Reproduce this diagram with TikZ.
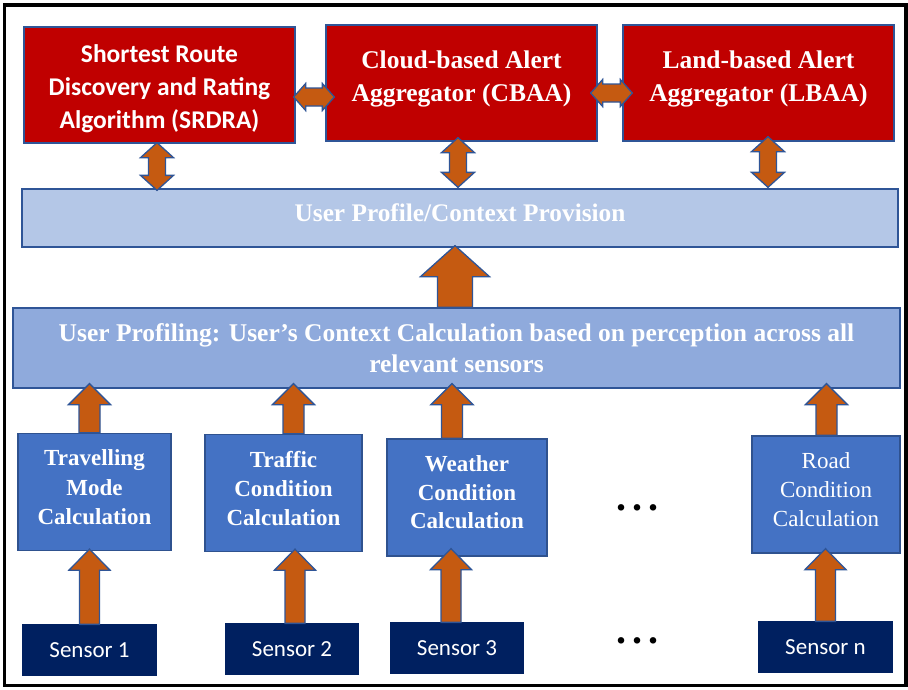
\documentclass[tikz,border=0pt]{standalone}
\usepackage{fontspec}
\setmainfont{Liberation Serif}
\newfontfamily\calfont{Carlito}
\usetikzlibrary{calc}
\definecolor{boxred}{HTML}{C00000}
\definecolor{edgeblue}{HTML}{2F5597}
\definecolor{paleblue}{HTML}{B4C7E7}
\definecolor{midblue}{HTML}{8FAADC}
\definecolor{calcblue}{HTML}{4472C4}
\definecolor{calcedge}{HTML}{2F528F}
\definecolor{navy}{HTML}{002060}
\definecolor{arrorange}{HTML}{C55A11}
\newcommand\mlines[2][0pt]{\raisebox{#1}[\height][\depth]{\begin{tabular}{@{}c@{}}#2\end{tabular}}}
% up block arrow: #1 bottom centre, #2 tip (y only), #3 half shaft, #4 half head, #5 head length
\newcommand\uparr[5]{\draw[blockarrow] let \p1=#1, \p2=#2 in
  (\x1-#3,\y1) -- (\x1+#3,\y1) -- (\x1+#3,\y2-#5) -- (\x1+#4,\y2-#5) -- (\x1,\y2)
  -- (\x1-#4,\y2-#5) -- (\x1-#3,\y2-#5) -- cycle;}
% vertical double block arrow: #1 upper tip, #2 lower tip (y only)
\newcommand\vdarr[5]{\draw[blockarrow] let \p1=#1, \p2=#2 in
  (\x1,\y1) -- (\x1+#4,\y1-#5) -- (\x1+#3,\y1-#5) -- (\x1+#3,\y2+#5) -- (\x1+#4,\y2+#5)
  -- (\x1,\y2) -- (\x1-#4,\y2+#5) -- (\x1-#3,\y2+#5) -- (\x1-#3,\y1-#5) -- (\x1-#4,\y1-#5) -- cycle;}
% horizontal double block arrow: #1 left tip, #2 right tip (x only)
\newcommand\hdarr[5]{\draw[blockarrow] let \p1=#1, \p2=#2 in
  (\x1,\y1) -- (\x1+#5,\y1+#4) -- (\x1+#5,\y1+#3) -- (\x2-#5,\y1+#3) -- (\x2-#5,\y1+#4)
  -- (\x2,\y1) -- (\x2-#5,\y1-#4) -- (\x2-#5,\y1-#3) -- (\x1+#5,\y1-#3) -- (\x1+#5,\y1-#4) -- cycle;}
\tikzset{
  box/.style={draw, line width=1.3pt, inner sep=0pt, text=white, align=center},
  redbox/.style={box, fill=boxred, draw=edgeblue, minimum width=271pt, minimum height=116pt},
  palebox/.style={box, fill=paleblue, draw=edgeblue},
  midbox/.style={box, fill=midblue, draw=edgeblue},
  calcbox/.style={box, fill=calcblue, draw=calcedge, minimum height=117pt,
     font=\rmfamily\fontsize{23}{29}\selectfont},
  sensorbox/.style={box, fill=navy, draw=navy, minimum width=132pt, minimum height=50pt,
     font=\calfont\fontsize{23}{28}\selectfont},
  blockarrow/.style={fill=arrorange, draw=edgeblue, line width=1.3pt, line join=miter},
  dotsnode/.style={inner sep=0pt, font=\bfseries\fontsize{40}{40}\selectfont}
}
\begin{document}
\begin{tikzpicture}[x=1pt, y=-1pt]
\useasboundingbox (0,0) rectangle (908,689);
\fill[white] (0,0) rectangle (908,689);
\draw[line width=3.5pt] (4.5,5) rectangle (906,685.5);

% top row
\node[redbox, font=\calfont\bfseries\fontsize{25.5}{33}\selectfont] (srdra) at (159.5,85)
  {\mlines[-3.5pt]{Shortest Route\\Discovery and Rating\\Algorithm (SRDRA)}};
\node[redbox, font=\bfseries\fontsize{25.5}{33}\selectfont] (cbaa) at (461.5,83)
  {\mlines[5pt]{Cloud-based Alert\\Aggregator (CBAA)}};
\node[redbox, font=\bfseries\fontsize{25.5}{33}\selectfont] (lbaa) at (758.5,83)
  {\mlines[5pt]{Land-based Alert\\Aggregator (LBAA)}};

% profile bars
\node[palebox, minimum width=876pt, minimum height=58pt, font=\bfseries\fontsize{25.3}{30}\selectfont]
  (up) at (460,218) {\mlines[3pt]{User Profile/Context Provision}};
\node[midbox, minimum width=887pt, minimum height=80pt, font=\bfseries\fontsize{25.5}{31}\selectfont]
  (upf) at (456.5,348) {\mlines[-3pt]{User Profiling: User’s Context Calculation based on perception across all\\relevant sensors}};

% calculation boxes
\node[calcbox, minimum width=153pt, font=\bfseries\fontsize{23}{29.5}\selectfont] (c1) at (94.5,492)
  {\mlines[2.5pt]{Travelling\\Mode\\Calculation}};
\node[calcbox, minimum width=157pt, font=\bfseries\fontsize{23}{29}\selectfont] (c2) at (283.5,493)
  {\mlines[2pt]{Traffic\\Condition\\Calculation}};
\node[calcbox, minimum width=160pt, font=\bfseries\fontsize{23}{28.5}\selectfont] (c3) at (467,497.5)
  {\mlines[3pt]{Weather\\Condition\\Calculation}};
\node[calcbox, minimum width=148pt] (c4) at (826,494.5)
  {\mlines[3pt]{Road\\Condition\\Calculation}};

% sensors
\node[sensorbox, minimum width=133pt] (s1) at (89.5,650) {Sensor 1};
\node[sensorbox] (s2) at (292,649) {Sensor 2};
\node[sensorbox] (s3) at (457,648) {Sensor 3};
\node[sensorbox, minimum width=133pt] (sn) at (825.5,647) {Sensor n};

% ellipses
\node[dotsnode] (d1) at (637,508) {.\hspace{6pt}.\hspace{6pt}.};
\node[dotsnode] (d2) at (637,641) {.\hspace{6pt}.\hspace{6pt}.};

% horizontal double arrows
\hdarr{($(srdra.east)+(-2,12)$)}{($(cbaa.west)+(9,0)$)}{9pt}{13.5pt}{12pt}
\hdarr{($(cbaa.east)+(-7,10)$)}{($(lbaa.west)+(10,0)$)}{9pt}{13.5pt}{12pt}

% vertical double arrows
\vdarr{($(srdra.south)+(-2.5,-1)$)}{($(up.north)+(0,2)$)}{8.5pt}{16.5pt}{15pt}
\vdarr{($(cbaa.south)+(-3.5,-4)$)}{($(up.north)+(0,-1)$)}{8.5pt}{16.5pt}{15pt}
\vdarr{($(lbaa.south)+(9.5,-5)$)}{($(up.north)+(0,-1)$)}{8.5pt}{16.5pt}{15pt}

% big arrow
\uparr{($(upf.north)+(-1.5,0)$)}{($(up.south)+(0,-2)$)}{17.5pt}{34.5pt}{31pt}

% calc -> profiling
\uparr{($(c1.north)+(-5,0)$)}{($(upf.south)+(0,-5)$)}{10.5pt}{21pt}{21pt}
\uparr{($(c2.north)+(10,0)$)}{($(upf.south)+(0,-5)$)}{10.5pt}{21pt}{21pt}
\uparr{($(c3.north)+(-15,0)$)}{($(upf.south)+(0,-5)$)}{10.5pt}{21pt}{21pt}
\uparr{($(c4.north)+(0.5,0)$)}{($(upf.south)+(0,-5)$)}{10.5pt}{21pt}{21pt}

% sensor -> calc
\uparr{(s1.north)}{($(c1.south)+(0,-2)$)}{10pt}{20.5pt}{21pt}
\uparr{($(s2.north)+(3,0)$)}{($(c2.south)+(0,-3)$)}{10pt}{20.5pt}{21pt}
\uparr{($(s3.north)+(-6,0)$)}{($(c3.south)+(0,-8)$)}{10pt}{20.5pt}{21pt}
\uparr{(sn.north)}{($(c4.south)+(0,-5)$)}{10pt}{20.5pt}{21pt}
\end{tikzpicture}
\end{document}
